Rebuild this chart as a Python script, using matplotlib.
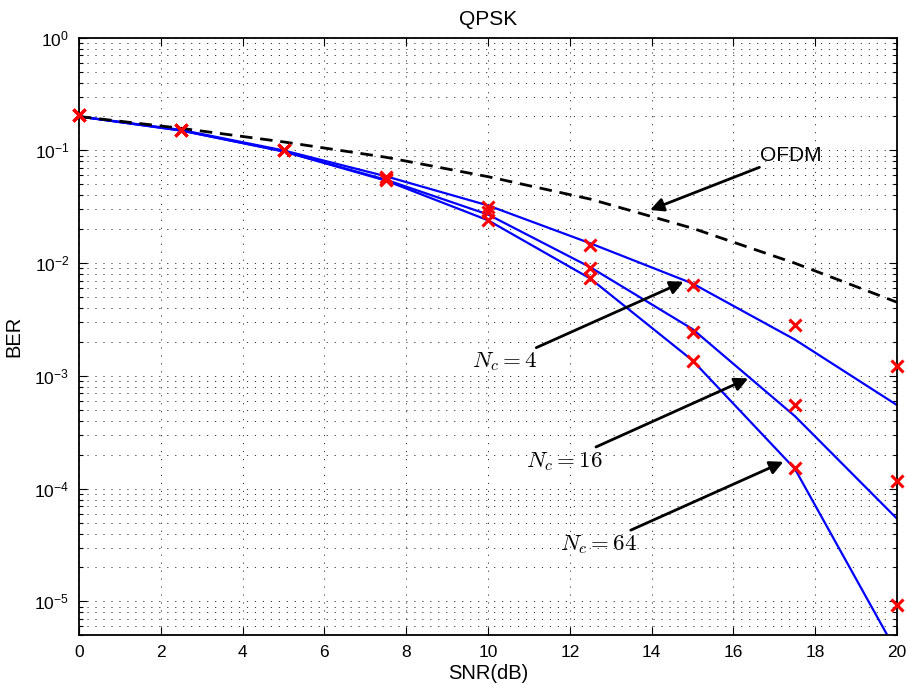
import matplotlib
matplotlib.use("Agg")
import matplotlib.pyplot as plt
from matplotlib.ticker import LogLocator, NullFormatter, MultipleLocator

plt.rcParams['font.family'] = ['Liberation Sans', 'DejaVu Sans']

snr = [0, 2.5, 5, 7.5, 10, 12.5, 15, 17.5, 20]

# theory curves (blue)
ber_nc4 = [0.2, 0.152, 0.1, 0.059, 0.0325, 0.0150, 0.0066, 0.0021, 5.5e-4]
ber_nc16 = [0.2, 0.15, 0.098, 0.055, 0.027, 0.0092, 0.0026, 4.4e-4, 5.4e-5]
ber_nc64 = [0.2, 0.15, 0.098, 0.054, 0.024, 0.0073, 0.00137, 1.5e-4, 3.5e-6]

# simulation (red x)
sim_nc4 = [0.205, 0.152, 0.1, 0.0585, 0.0316, 0.0145, 0.0064, 0.00282, 1.22e-3]
sim_nc16 = [0.205, 0.152, 0.1, 0.056, 0.0284, 0.0091, 0.00246, 5.5e-4, 1.17e-4]
sim_nc64 = [0.205, 0.152, 0.1, 0.0546, 0.0241, 0.00733, 0.00136, 1.51e-4, 9.25e-6]

# OFDM reference (dashed)
ber_ofdm = [0.2, 0.157, 0.119, 0.087, 0.0585, 0.037, 0.0204, 0.01, 0.0045]

fig = plt.figure(figsize=(9.07, 6.85), dpi=100)
ax = fig.add_axes([0.0871, 0.0725, 0.902, 0.8725])

for b in [ber_nc4, ber_nc16, ber_nc64]:
    ax.semilogy(snr, b, color='#0000ff', lw=1.6)
for s in [sim_nc4, sim_nc16, sim_nc64]:
    ax.semilogy(snr, s, ls='none', marker='x', color='#ff0000', ms=9, mew=2.2,
                clip_on=False, zorder=4)
ax.semilogy(snr, ber_ofdm, color='black', ls=(0, (4.5, 2.8)), lw=2)

ax.set_xlim(0, 20)
ax.set_ylim(5e-6, 1)
ax.xaxis.set_major_locator(MultipleLocator(2))
ax.yaxis.set_major_locator(LogLocator(base=10, numticks=10))
ax.yaxis.set_minor_locator(LogLocator(base=10, subs=range(2, 10), numticks=20))
ax.yaxis.set_minor_formatter(NullFormatter())

ax.tick_params(which='both', direction='in', top=True, right=True, labelsize=12.5, width=0.8)
ax.tick_params(which='major', length=6)
ax.tick_params(which='minor', length=3)
ax.tick_params(axis='x', pad=7)
ax.tick_params(axis='y', pad=7)
for sp in ax.spines.values():
    sp.set_linewidth(1.3)

grid_style = dict(color='0.2', ls=(0, (1.2, 7)), lw=0.7)
ax.grid(True, which='major', axis='both', **grid_style)
ax.grid(True, which='minor', axis='y', **grid_style)

ax.set_title('QPSK', fontsize=15, pad=9)
ax.set_xlabel('SNR(dB)', fontsize=14.5, labelpad=3)
ax.set_ylabel('BER', fontsize=14.5, labelpad=8)

arrow = dict(arrowstyle='-|>', color='black', lw=2, mutation_scale=20, shrinkA=0, shrinkB=0)
ax.annotate('OFDM', xy=(13.96, 0.0296), xytext=(16.65, 0.091), fontsize=15,
            ha='left', va='center', arrowprops=arrow)
ax.annotate(r'$N_c = 4$', xy=(14.78, 6.84e-3), xytext=(11.2, 1.33e-3), fontsize=16.5,
            ha='right', va='center', math_fontfamily='cm', arrowprops=arrow)
ax.annotate(r'$N_c = 16$', xy=(16.36, 9.5e-4), xytext=(12.8, 1.75e-4), fontsize=16.5,
            ha='right', va='center', math_fontfamily='cm', arrowprops=arrow)
ax.annotate(r'$N_c = 64$', xy=(17.22, 1.73e-4), xytext=(13.65, 3.2e-5), fontsize=16.5,
            ha='right', va='center', math_fontfamily='cm', arrowprops=arrow)

fig.savefig('out.png', dpi=100)
